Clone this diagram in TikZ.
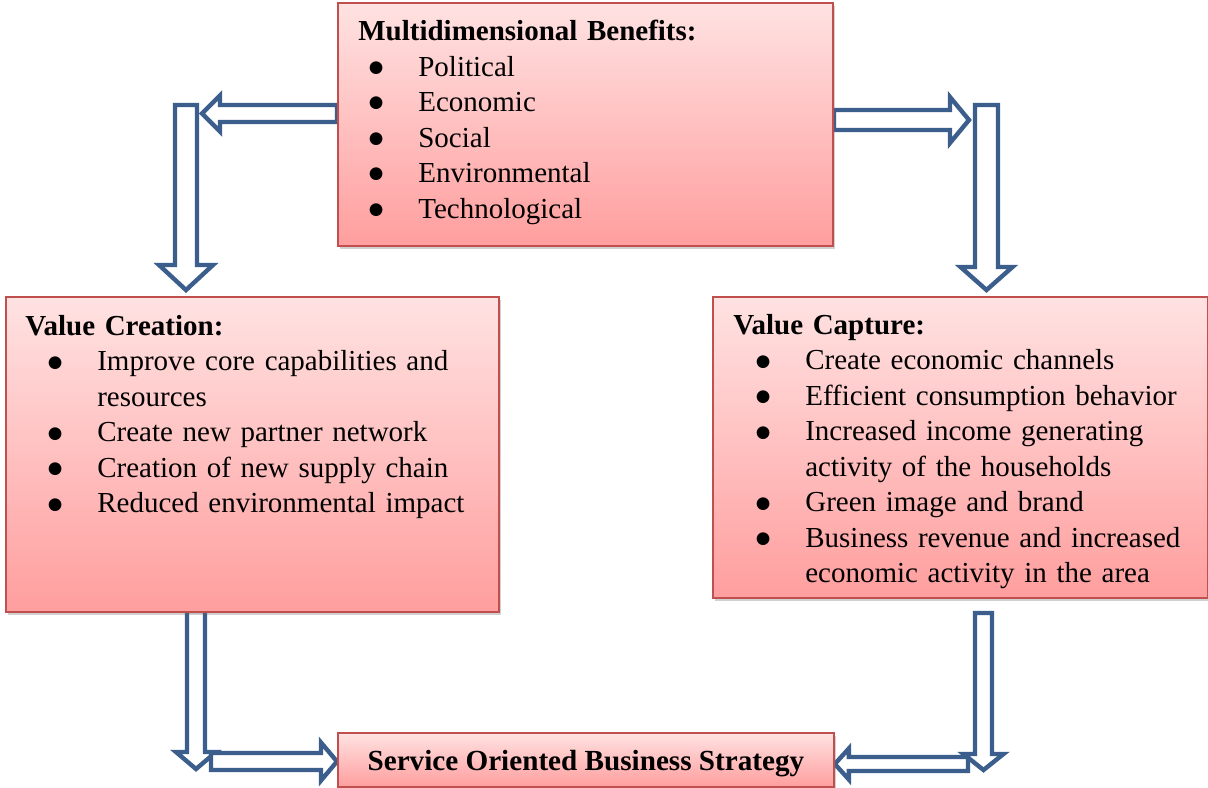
\documentclass[tikz,border=0pt]{standalone}
\usepackage{fontspec}
\setmainfont{Liberation Serif}
\newfontfamily\symfont{DejaVu Sans}
\usepackage{enumitem}
\usetikzlibrary{calc,shadows,backgrounds}
\setlength{\parindent}{0pt}

\definecolor{boxtop}{HTML}{FFE2E2}
\definecolor{boxbot}{HTML}{FF9E9E}
\definecolor{boxrim}{HTML}{C0504D}
\definecolor{arrblue}{HTML}{3B5E8C}

\newcommand{\bul}{\raisebox{2.2pt}{\fontsize{9.5}{9.5}\symfont ●}}
\newlist{blist}{itemize}{1}
\setlist[blist]{label=\bul,nosep,labelsep=0.7cm,leftmargin=1.44cm}

\begin{document}
\begin{tikzpicture}[x=0.02cm,y=-0.02cm,
  bx/.style={draw=boxrim,line width=1.1pt,top color=boxtop,bottom color=boxbot,
    anchor=north west,inner sep=0pt,
    drop shadow={shadow xshift=1.2pt,shadow yshift=-1.6pt,opacity=.3,fill=black!60}},
  txt/.style={anchor=north west,inner sep=0pt,align=left,
    font=\fontsize{16.5}{20.2}\selectfont},
  % hollow block arrow: shaft half width / head half width / head length
  barr/.style args={#1/#2/#3}{draw=arrblue,line width=2.5pt,fill=white,
    to path={($(\tikztostart)!#1!90:(\tikztotarget)$)
      -- ($($(\tikztotarget)!#3!(\tikztostart)$)!#1!90:(\tikztotarget)$)
      -- ($($(\tikztotarget)!#3!(\tikztostart)$)!#2!90:(\tikztotarget)$)
      -- (\tikztotarget)
      -- ($($(\tikztotarget)!#3!(\tikztostart)$)!#2!-90:(\tikztotarget)$)
      -- ($($(\tikztotarget)!#3!(\tikztostart)$)!#1!-90:(\tikztotarget)$)
      -- ($(\tikztostart)!#1!-90:(\tikztotarget)$) -- cycle}}]
\useasboundingbox (0,0) rectangle (1208,788);

% the four boxes
\node[bx,minimum width=9.9cm,minimum height=4.86cm] (mb) at (337,2) {};
\node[bx,minimum width=9.86cm,minimum height=6.3cm] (vcr) at (5,296) {};
\node[bx,minimum width=9.9cm,minimum height=6.02cm] (vca) at (712,296) {};
\node[bx,minimum width=9.92cm,minimum height=1.08cm,text depth=0pt,
  font=\fontsize{16.6}{20.2}\selectfont] (sobs) at (337,732)
  {\textbf{Service Oriented Business Strategy}};

\node[txt,text width=9cm] (mbt) at (358,20) {\textbf{Multidimensional Benefits:}
  \begin{blist}[leftmargin=1.2cm]
  \item Political
  \item Economic
  \item Social
  \item Environmental
  \item Technological
  \end{blist}};
\node[txt,text width=9.3cm] (vcrt) at (25,315) {\textbf{Value Creation:}
  \begin{blist}
  \item Improve core capabilities and\\ resources
  \item Create new partner network
  \item Creation of new supply chain
  \item Reduced environmental impact
  \end{blist}};
\node[txt,text width=9.3cm] (vcat) at (733,314) {\textbf{Value Capture:}
  \begin{blist}
  \item Create economic channels
  \item Efficient consumption behavior
  \item Increased income generating\\ activity of the households
  \item Green image and brand
  \item Business revenue and increased\\ economic activity in the area
  \end{blist}};

% arrow ends
\coordinate (tl0) at (mb.west |- 0,113.5);  \coordinate (tl1) at (202,113.5);
\coordinate (ld0) at (186,105);             \coordinate (ld1) at (186,290);
\coordinate (tr0) at (mb.east |- 0,120);    \coordinate (tr1) at (969,120);
\coordinate (rd0) at (986.5,105);           \coordinate (rd1) at (986.5,290);
\coordinate (lb0) at (196,611);             \coordinate (lb1) at (196,769);
\coordinate (bl0) at (211,761.5);           \coordinate (bl1) at (sobs.west |- 0,761.5);
\coordinate (rb0) at (983.5,613);           \coordinate (rb1) at (983.5,770);
\coordinate (br0) at (968,764);             \coordinate (br1) at (sobs.east |- 0,764);

\begin{scope}[on background layer]
\draw[barr=0.17cm/0.36cm/0.36cm] (tl0) to (tl1);
\draw[barr=0.22cm/0.54cm/0.5cm] (ld0) to (ld1);
\draw[barr=0.2cm/0.46cm/0.38cm] (tr0) to (tr1);
\draw[barr=0.23cm/0.52cm/0.46cm] (rd0) to (rd1);
\draw[barr=0.18cm/0.4cm/0.34cm] (lb0) to (lb1);
\draw[barr=0.17cm/0.38cm/0.32cm] (bl0) to (bl1);
\draw[barr=0.17cm/0.4cm/0.32cm] (rb0) to (rb1);
\draw[barr=0.14cm/0.31cm/0.28cm] (br0) to (br1);
\end{scope}
\end{tikzpicture}
\end{document}
